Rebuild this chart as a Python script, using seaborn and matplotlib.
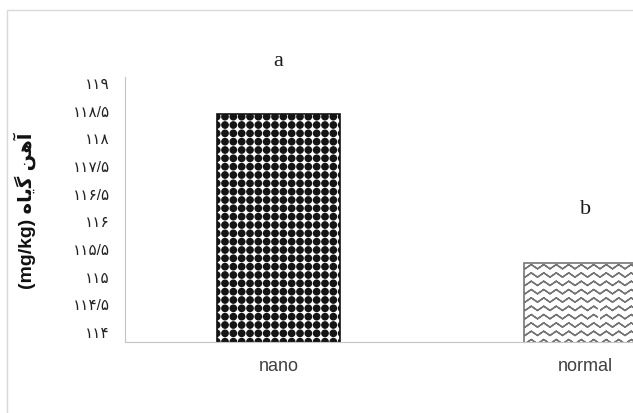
import numpy as np
import matplotlib
matplotlib.use('Agg')
import matplotlib.pyplot as plt
import matplotlib.hatch as mhatch
from matplotlib.path import Path
from matplotlib.patches import Rectangle
from matplotlib.ticker import FixedLocator
import seaborn as sns

# data
categories = ['nano', 'normal']
iron = [118.3, 115.5]
groups = ['a', 'b']
tick_values = [114, 114.5, 115, 115.5, 116, 116.5, 117, 117.5, 118, 118.5, 119]
# printed labels (the original drops 117, so there are ten of them)
tick_labels = ['۱۱۹', '۱۱۸/۵', '۱۱۸', '۱۱۷/۵', '۱۱۶/۵',
               '۱۱۶', '۱۱۵/۵', '۱۱۵', '۱۱۴/۵', '۱۱۴']
# "آهن گیاه (mg/kg)" shaped by hand and put in visual order
ylabel = '(mg/kg) ' + '\uFEE9\uFE8E\uFBFE\uFB94' + ' ' + '\uFEE6\uFEEB\uFE81'


# custom hatches: '.' -> square grid of filled dots, '-' -> zigzag lines
class DotGrid(mhatch.HatchPatternBase):
    def __init__(self, hatch, density):
        self.n = hatch.count('.') * density
        circ = Path.unit_circle()
        self.cv, self.cc = circ.vertices, circ.codes
        self.num_vertices = (self.n + 1) ** 2 * len(self.cv) if self.n else 0

    def set_vertices_and_codes(self, vertices, codes):
        step = 1.0 / self.n
        m = len(self.cv)
        k = 0
        for y in np.linspace(0, 1, self.n + 1):
            for x in np.linspace(0, 1, self.n + 1):
                vertices[k:k + m] = self.cv * step * 0.38 + [x, y]
                codes[k:k + m] = self.cc
                k += m


class ZigZag(mhatch.HatchPatternBase):
    def __init__(self, hatch, density):
        self.rows = hatch.count('-') * density
        self.teeth = (self.rows * 2) // 3
        self.pts = 2 * self.teeth + 1
        # forward then backward along the same points, so nothing gets filled
        self.per_row = 2 * self.pts
        self.num_vertices = (self.rows + 1) * self.per_row if self.rows else 0

    def set_vertices_and_codes(self, vertices, codes):
        xs = np.linspace(0, 1, self.pts)
        amp = 0.26 / self.rows
        wave = np.where(np.arange(self.pts) % 2 == 0, -amp, amp)
        for i, y in enumerate(np.linspace(0, 1, self.rows + 1)):
            a = i * self.per_row
            line = np.column_stack([xs, y + wave])
            vertices[a:a + self.pts] = line
            vertices[a + self.pts:a + self.per_row] = line[::-1]
            codes[a:a + self.per_row] = Path.LINETO
            codes[a] = Path.MOVETO


ht = mhatch._hatch_types
ht[ht.index(mhatch.SmallFilledCircles)] = DotGrid
ht[ht.index(mhatch.HorizontalHatch)] = ZigZag

sns.set_style('white')
plt.rcParams['font.family'] = ['Liberation Sans', 'DejaVu Sans']
plt.rcParams['hatch.linewidth'] = 1.0

fig = plt.figure(figsize=(6.33, 4.14), dpi=100)
ax = fig.add_axes([0.1975, 0.1715, 0.970, 0.640])

sns.barplot(x=categories, y=iron, ax=ax, width=0.4, color='white', saturation=1)
for bar, hatch, ec in zip(ax.patches, ['..', '--'], ['#141414', '#757575']):
    bar.set_hatch(hatch)
    bar.set_edgecolor(ec)
    bar.set_linewidth(1.2)

for i, (v, g) in enumerate(zip(iron, groups)):
    ax.text(i, v + 0.93, g, ha='center', va='baseline', fontsize=16,
            family='Liberation Serif', color='#1a1a1a')

ax.set_xlim(-0.5, 1.5)
ax.set_ylim(114, 119)
for s in ['top', 'right']:
    ax.spines[s].set_visible(False)
for s in ['left', 'bottom']:
    ax.spines[s].set_color('#c4c4c4')
    ax.spines[s].set_linewidth(0.8)

# tick marks at every half unit, printed labels spread evenly beside them
ax.yaxis.set_major_locator(FixedLocator(np.linspace(118.9, 114.2, len(tick_labels))))
ax.set_yticklabels(tick_labels)
ax.yaxis.set_minor_locator(FixedLocator(tick_values))
ax.tick_params(axis='y', which='major', length=0, pad=11, labelsize=11, labelcolor='#222222')
ax.tick_params(axis='y', which='minor', length=5, width=0.8, color='#c4c4c4')

ax.set_xticks([0, 1])
ax.set_xticklabels(categories)
ax.xaxis.set_minor_locator(FixedLocator([-0.5, 0.5, 1.5]))
ax.tick_params(axis='x', which='major', length=0, pad=11, labelsize=13, labelcolor='#404040')
ax.tick_params(axis='x', which='minor', length=5, width=0.8, color='#c4c4c4')

ax.set_ylabel(ylabel, fontsize=14, fontweight='bold', va='center', color='#111111')
ax.yaxis.set_label_coords(-0.163, 0.5)

# chart-area border (cut off at the right and bottom)
fig.add_artist(Rectangle((7 / 633, -0.05), 1.2, 403 / 414 + 0.05, transform=fig.transFigure,
                         fill=False, edgecolor='#d9d9d9', linewidth=1))

fig.savefig('out.png', dpi=100)
